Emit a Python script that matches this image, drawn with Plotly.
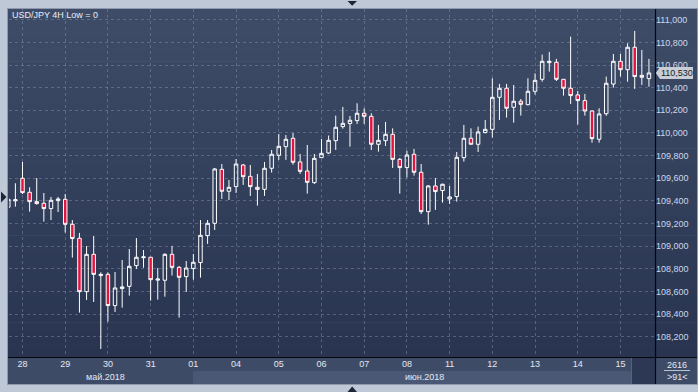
import plotly.graph_objects as go

# ---------------- data ----------------
chart_title = "USD/JPY 4H Low = 0"

opens = [109.344, 109.400, 109.600, 109.476, 109.393, 109.379, 109.332, 109.402, 109.414, 109.193,
         109.070, 108.598, 108.928, 108.740, 108.751, 108.475, 108.625, 108.645, 108.828, 108.898,
         108.902, 108.700, 108.699, 108.928, 108.813, 108.731, 108.802, 108.855, 109.093, 109.202,
         109.679, 109.485, 109.526, 109.717, 109.617, 109.520, 109.502, 109.688, 109.803, 109.879,
         109.953, 109.744, 109.664, 109.561, 109.782, 109.823, 109.932, 110.056, 110.083, 110.109,
         110.174, 110.147, 109.900, 109.932, 109.988, 109.767, 109.694, 109.812, 109.653, 109.305,
         109.532, 109.491, 109.417, 109.438, 109.782, 109.953, 109.900, 110.003, 110.032, 110.315,
         110.395, 110.227, 110.280, 110.250, 110.368, 110.474, 110.621, 110.624, 110.474, 110.395,
         110.336, 110.286, 110.194, 109.944, 110.170, 110.432, 110.633, 110.559, 110.757, 110.509,
         110.480]
highs = [109.420, 109.556, 109.744, 109.520, 109.602, 109.470, 109.435, 109.435, 109.461, 109.231,
         109.117, 109.002, 109.090, 108.769, 108.769, 108.772, 108.878, 108.975, 109.072, 108.966,
         108.905, 108.807, 108.937, 109.002, 108.825, 108.869, 108.931, 109.231, 109.231, 109.691,
         109.726, 109.585, 109.770, 109.726, 109.717, 109.638, 109.744, 109.850, 109.991, 109.982,
         110.000, 109.815, 109.894, 109.815, 109.947, 109.977, 110.153, 110.230, 110.150, 110.262,
         110.218, 110.174, 110.071, 110.097, 110.041, 109.779, 109.844, 109.859, 109.726, 109.540,
         109.603, 109.552, 109.532, 109.832, 110.071, 110.041, 110.056, 110.115, 110.483, 110.433,
         110.433, 110.424, 110.300, 110.483, 110.527, 110.692, 110.716, 110.654, 110.477, 110.851,
         110.371, 110.345, 110.200, 110.218, 110.498, 110.698, 110.698, 110.792, 110.901, 110.733,
         110.654]
lows = [109.340, 109.349, 109.461, 109.305, 109.367, 109.217, 109.231, 109.302, 109.120, 108.899,
        108.413, 108.525, 108.507, 108.092, 108.333, 108.419, 108.457, 108.563, 108.799, 108.810,
        108.519, 108.528, 108.554, 108.740, 108.369, 108.595, 108.704, 108.722, 109.020, 109.143,
        109.417, 109.408, 109.470, 109.541, 109.444, 109.358, 109.444, 109.650, 109.762, 109.762,
        109.720, 109.638, 109.464, 109.550, 109.782, 109.815, 109.850, 110.038, 109.879, 110.080,
        110.080, 109.850, 109.835, 109.885, 109.691, 109.464, 109.607, 109.623, 109.284, 109.190,
        109.320, 109.385, 109.373, 109.393, 109.747, 109.898, 109.832, 109.997, 109.959, 110.115,
        110.136, 110.091, 110.153, 110.244, 110.339, 110.453, 110.542, 110.459, 110.330, 110.256,
        110.074, 110.153, 109.914, 109.914, 110.152, 110.400, 110.498, 110.453, 110.389, 110.424,
        110.409]
closes = [109.414, 109.410, 109.473, 109.393, 109.376, 109.332, 109.405, 109.417, 109.193, 109.067,
          108.598, 108.928, 108.751, 108.751, 108.475, 108.631, 108.640, 108.822, 108.902, 108.905,
          108.704, 108.710, 108.928, 108.813, 108.725, 108.807, 108.858, 109.096, 109.202, 109.682,
          109.485, 109.520, 109.726, 109.614, 109.526, 109.502, 109.688, 109.812, 109.882, 109.944,
          109.741, 109.661, 109.564, 109.776, 109.820, 109.935, 110.050, 110.085, 110.112, 110.174,
          110.147, 109.900, 109.935, 109.988, 109.767, 109.694, 109.805, 109.653, 109.305, 109.532,
          109.482, 109.547, 109.435, 109.785, 109.953, 109.900, 110.009, 110.032, 110.315, 110.395,
          110.218, 110.280, 110.253, 110.368, 110.465, 110.633, 110.633, 110.474, 110.395, 110.330,
          110.286, 110.194, 109.950, 110.168, 110.439, 110.633, 110.559, 110.757, 110.498, 110.492,
          110.530]
bar_index = list(range(len(opens)))

day_labels = ["28", "29", "30", "31", "01", "04", "05", "06", "07", "08", "11", "12", "13", "14", "15"]
day_label_bars = [2, 8, 14, 20, 26, 32, 38, 44, 50, 56, 62, 68, 74, 80, 86]
month_labels = ["май.2018", "июн.2018"]
month_label_bars = [13.6, 58.5]

price_ticks = [108.2, 108.4, 108.6, 108.8, 109.0, 109.2, 109.4, 109.6, 109.8, 110.0, 110.2, 110.4, 110.6, 110.8, 111.0]
price_tick_labels = ["108,200", "108,400", "108,600", "108,800", "109,000", "109,200", "109,400", "109,600",
                     "109,800", "110,000", "110,200", "110,400", "110,600", "110,800", "111,000"]
last_price = 110.530
last_price_label = "110,530"
total_bars_text = "2616"
visible_bars_text = ">91<"

# ---------------- layout geometry (pixels) ----------------
W, H = 698, 392
PL, PR, PT, PB = 9, 655, 9, 357          # plot area
X_RANGE = [0.104, 90.85]
Y_RANGE = [108.021, 111.095]
FONT = "Liberation Sans, Arial"


def px(X):
    return (X - PL) / (PR - PL)


def py(Y):
    return (PB - Y) / (PB - PT)


def rect(x0, y0, x1, y1, color, layer="below"):
    return dict(type="rect", xref="paper", yref="paper", x0=px(x0), x1=px(x1), y0=py(y1), y1=py(y0),
                fillcolor=color, line=dict(width=0), layer=layer)


def line(x0, y0, x1, y1, color, width=1, layer="above"):
    return dict(type="line", xref="paper", yref="paper", x0=px(x0), x1=px(x1), y0=py(y0), y1=py(y1),
                line=dict(color=color, width=width), layer=layer)


def poly(points, color, layer="above"):
    path = "M " + " L ".join(f"{px(a)},{py(b)}" for a, b in points) + " Z"
    return dict(type="path", xref="paper", yref="paper", path=path, fillcolor=color,
                line=dict(width=0), layer=layer)


shapes = []
# gradient background of plot + price-axis area
top_c = (62, 76, 103)
bot_c = (40, 52, 80)
N = 40
for k in range(N):
    t = k / (N - 1)
    c = tuple(round(top_c[j] + (bot_c[j] - top_c[j]) * t) for j in range(3))
    y0 = PT + (PB - PT) * k / N
    y1 = PT + (PB - PT) * (k + 1) / N + 0.6
    shapes.append(rect(8, y0, 697, min(y1, PB), f"rgb{c}"))
# bottom time band
shapes.append(rect(8, PB, 697, 384, "#3e4b67"))
shapes.append(rect(193, 371, 631, 384, "#4b5875"))
shapes.append(rect(631, 358, 655, 384, "#2d3954"))
shapes.append(line(631.5, 358, 631.5, 384, "#56627c", 1, "below"))
shapes.append(rect(655, PB, 697, 384, "#3e4b67"))
shapes.append(line(664, 370.5, 690, 370.5, "#b8c2d2", 1))
# frame lines
shapes.append(line(655.5, PT, 655.5, 384, "#05070c", 1.2))
shapes.append(line(8, 357.5, 697, 357.5, "#05070c", 1.2))
shapes.append(line(8, 8.5, 697, 8.5, "#8e99ad", 1))
shapes.append(line(7.5, 8, 7.5, 385, "#8e99ad", 1))
shapes.append(line(8, 384.5, 697, 384.5, "#8e99ad", 1))
shapes.append(line(697.5, 8, 697.5, 385, "#8e99ad", 1))
# decorative arrows
shapes.append(poly([(347.5, 1), (357, 1), (352.2, 5.8)], "#1c2637"))
shapes.append(poly([(347.5, 392), (357, 392), (352.2, 386.5)], "#1c2637"))
shapes.append(poly([(1, 191.5), (1, 202.5), (6.5, 197)], "#1c2637"))
# last-price marker
ly = 357 - (last_price - Y_RANGE[0]) / (Y_RANGE[1] - Y_RANGE[0]) * (PB - PT)
shapes.append(poly([(655.8, ly), (660, ly - 6), (693, ly - 6), (693, ly + 6), (660, ly + 6)], "#c9ced6"))

annotations = [
    dict(text=chart_title, xref="paper", yref="paper", x=px(10), y=py(15), xanchor="left", yanchor="middle",
         showarrow=False, font=dict(family=FONT, size=9, color="#e9eef6")),
    dict(text=last_price_label, xref="paper", yref="paper", x=px(676.5), y=py(ly), xanchor="center",
         yanchor="middle", showarrow=False, font=dict(family=FONT, size=9, color="#1a1d22")),
    dict(text=total_bars_text, xref="paper", yref="paper", x=px(677), y=py(364.5), xanchor="center",
         yanchor="middle", showarrow=False, font=dict(family=FONT, size=9, color="#e2e8f1")),
    dict(text=visible_bars_text, xref="paper", yref="paper", x=px(677), y=py(377), xanchor="center",
         yanchor="middle", showarrow=False, font=dict(family=FONT, size=9, color="#e2e8f1")),
]
for lab, pos in zip(month_labels, month_label_bars):
    annotations.append(dict(text=lab, xref="x", yref="paper", x=pos, y=py(376.5), xanchor="center",
                            yanchor="middle", showarrow=False,
                            font=dict(family=FONT, size=9, color="#e2e8f1")))

fig = go.Figure(go.Candlestick(
    x=bar_index, open=opens, high=highs, low=lows, close=closes,
    increasing=dict(line=dict(color="#ffffff", width=1), fillcolor="rgba(0,0,0,0)"),
    decreasing=dict(line=dict(color="#ffffff", width=1), fillcolor="#e3143f"),
    whiskerwidth=0, hoverinfo="skip", showlegend=False,
))

grid = dict(showgrid=True, gridcolor="rgba(125,142,172,0.5)", gridwidth=1, griddash="3px,3px")
fig.update_layout(
    width=W, height=H,
    margin=dict(l=PL, r=W - PR, t=PT, b=H - PB, pad=0),
    paper_bgcolor="#bfc8d6", plot_bgcolor="rgba(0,0,0,0)",
    shapes=shapes, annotations=annotations,
    boxgap=0.3,
    xaxis=dict(range=X_RANGE, rangeslider=dict(visible=False), tickmode="array",
               tickvals=day_label_bars, ticktext=day_labels, ticks="", showline=False, zeroline=False,
               tickfont=dict(family=FONT, size=9, color="#e2e8f1"),
               fixedrange=True, **grid),
    yaxis=dict(range=Y_RANGE, side="right", tickmode="array", tickvals=price_ticks,
               ticktext=price_tick_labels, ticks="", showline=False, zeroline=False,
               tickfont=dict(family=FONT, size=9, color="#cdd8ea"),
               fixedrange=True, **grid),
)

fig.write_html("out.html", config=dict(displayModeBar=False, staticPlot=True),
               post_script="document.body.style.margin='0';document.body.style.overflow='hidden';")
